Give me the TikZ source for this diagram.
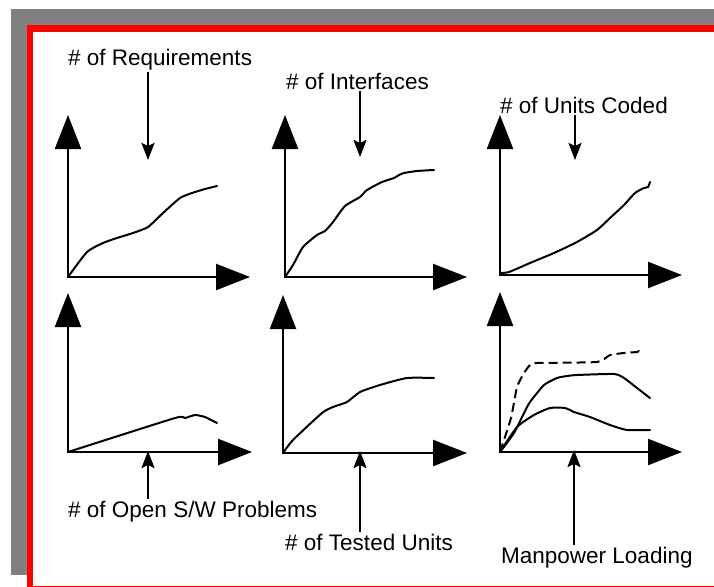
\documentclass[tikz,border=0pt]{standalone}
\usepackage{fontspec}
\setmainfont{Liberation Sans}
\usetikzlibrary{arrows.meta}
\definecolor{shadowgray}{HTML}{808080}
\definecolor{framered}{HTML}{FF0000}
\begin{document}
\begin{tikzpicture}[x=1pt,y=-1pt,
  axis/.style={line width=2.4pt, line join=miter,
    {Triangle[length=34pt,width=26pt]}-{Triangle[length=34pt,width=26pt]}},
  curve/.style={line width=2pt, line join=round, line cap=round},
  dashcurve/.style={curve, line cap=butt, dash pattern=on 9pt off 5pt},
  pointer/.style={line width=2.2pt, -{Stealth[length=17pt,width=13pt,inset=3pt]}},
  lbl/.style={font=\fontsize{22.5}{26}\selectfont, inner sep=2pt, anchor=base west}]

\useasboundingbox (0,0) rectangle (714,586);
\clip (0,0) rectangle (714,586);

% drop shadow and framed page (the page runs on past the right and bottom edges)
\fill[shadowgray] (11,9) rectangle (714,575);
\fill[white] (30,28.5) rectangle (714,586);
\draw[framered, line width=6.5pt, line join=miter] (714,28.5) -- (30,28.5) -- (30,589) -- (714,589);

% ---------- top row ----------
% requirements
\coordinate (o1) at (68,277); \coordinate (y1) at (68,115); \coordinate (x1) at (250,277);
\draw[axis] (y1) -- (o1) -- (x1);
\draw[curve] plot[smooth, tension=0.35] coordinates {(68,277) (87,252) (103,243) (117,238) (133,233) (148,227) (163,213) (180,198) (192,193) (205,189) (217,186)};

% interfaces
\coordinate (o2) at (285,277); \coordinate (y2) at (285,115); \coordinate (x2) at (467,277);
\draw[axis] (y2) -- (o2) -- (x2);
\draw[curve] plot[smooth, tension=0.35] coordinates {(285,277) (293,265) (303,247) (317,235) (325,231) (333,222) (345,206) (360,197) (367,190) (382,182) (394,178) (399,175) (404,173) (417,171) (434,170)};

% units coded
\coordinate (o3) at (500,275); \coordinate (y3) at (500,115); \coordinate (x3) at (682,275);
\draw[axis] (y3) -- (o3) -- (x3);
\draw[curve] plot[smooth, tension=0.35] coordinates {(500,273) (509,272) (530,263) (554,253) (577,242) (597,230) (610,218) (624,205) (635,193) (644,188) (648,187) (650,182)};

% ---------- bottom row ----------
% open problems
\coordinate (o4) at (68,452); \coordinate (y4) at (68,293); \coordinate (x4) at (252,452);
\draw[axis] (y4) -- (o4) -- (x4);
\draw[curve] plot[smooth, tension=0.3] coordinates {(68,452) (175,418) (185,418) (195,415) (205,417) (217,423)};

% tested units
\coordinate (o5) at (283,453); \coordinate (y5) at (283,295); \coordinate (x5) at (467,453);
\draw[axis] (y5) -- (o5) -- (x5);
\draw[curve] plot[smooth, tension=0.35] coordinates {(283,453) (293,440) (322,413) (333,407) (347,402) (360,392) (380,385) (407,378) (434,378)};

% manpower loading
\coordinate (o6) at (500,452); \coordinate (y6) at (500,292); \coordinate (x6) at (682,452);
\draw[axis] (y6) -- (o6) -- (x6);
\draw[dashcurve] plot[smooth, tension=0.3] coordinates {(500,452) (511,418) (517,387) (524,373) (530,365) (537,363) (597,362) (610,355) (624,353) (637,352) (639,351) (642,353)};
\draw[curve] plot[smooth, tension=0.35] coordinates {(500,452) (514,433) (524,413) (530,402) (544,385) (557,378) (567,376) (577,375) (614,374) (624,378) (637,388) (650,398)};
\draw[curve] plot[smooth, tension=0.35] coordinates {(500,452) (517,427) (534,415) (550,408) (565,408) (574,412) (590,417) (610,425) (627,430) (650,430)};

% ---------- labels and pointers ----------
\node[lbl] (req) at (66,65) {\# of Requirements};
\coordinate (reqtip) at (148,160);
\draw[pointer] (req.south -| reqtip) -- (reqtip);

\node[lbl] (ifc) at (284,89) {\# of Interfaces};
\coordinate (ifctip) at (360,157);
\draw[pointer] (ifc.south -| ifctip) -- (ifctip);

\node[lbl] (cod) at (498,113) {\# of Units Coded};
\coordinate (codtip) at (575,160);
\draw[pointer] (cod.south -| codtip) -- (codtip);

\node[lbl] (opn) at (66,517) {\# of Open S/W Problems};
\coordinate (opntip) at (148,451);
\draw[pointer] (opn.north -| opntip) -- (opntip);

\node[lbl] (tst) at (283,550) {\# of Tested Units};
\coordinate (tsttip) at (360,451);
\draw[pointer] (tst.north -| tsttip) -- (tsttip);

\node[lbl] (man) at (499,563) {Manpower Loading};
\coordinate (mantip) at (574,450);
\draw[pointer] (man.north -| mantip) -- (mantip);
\end{tikzpicture}
\end{document}
